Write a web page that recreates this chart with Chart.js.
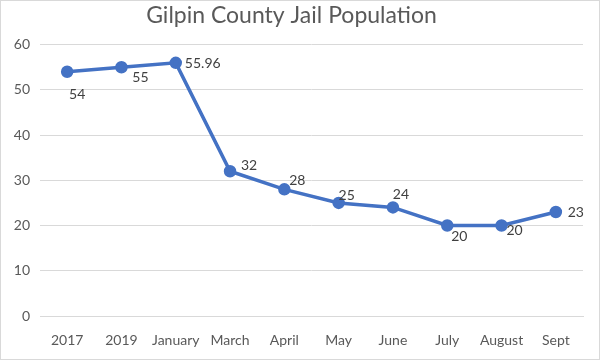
<!DOCTYPE html>
<html>
<head>
<title>Gilpin County Jail Population</title>
<script src="https://cdn.jsdelivr.net/npm/chart.js"></script>
<style>
body{margin:0;background:#fff;}
</style>
</head>
<body>
<canvas id="myChart" width="600" height="360"></canvas>
<script>
// data
var months = ["2017","2019","January","March","April","May","June","July","August","Sept"];
var population = [54, 55, 55.96, 32, 28, 25, 24, 20, 20, 23];
var yTicks = [0, 10, 20, 30, 40, 50, 60];

// where each value label sits, relative to its point (dx, dy)
var labelOffsets = [[10,23],[19,10],[27,1],[19,-6],[13,-9],[8,-7],[8,-13],[12,11],[13,5],[20,1]];

var gray = '#595959';
var blue = '#4472C4';

// draws the value labels and the thin frame round the picture
const extras = {
  id: 'extras',
  afterDatasetsDraw(chart) {
    var ctx = chart.ctx;
    var meta = chart.getDatasetMeta(0);
    ctx.save();
    ctx.font = '14px Lato';
    ctx.fillStyle = '#404040';
    ctx.textAlign = 'center';
    ctx.textBaseline = 'middle';
    meta.data.forEach(function(pt, i){
      ctx.fillText(String(population[i]), pt.x + labelOffsets[i][0], pt.y + labelOffsets[i][1]);
    });
    ctx.restore();
  },
  afterDraw(chart) {
    var ctx = chart.ctx;
    ctx.save();
    ctx.strokeStyle = '#d9d9d9';
    ctx.lineWidth = 1;
    ctx.strokeRect(0.5, 0.5, chart.width - 1, chart.height - 1);
    ctx.restore();
  }
};

const config = {
  type: 'line',
  data: {
    labels: months,
    datasets: [{
      label: 'Population',
      data: population,
      borderColor: blue,
      backgroundColor: blue,
      borderWidth: 3.5,
      pointRadius: 4.5,
      pointBackgroundColor: blue,
      pointBorderColor: blue,
      tension: 0
    }]
  },
  options: {
    responsive: false,
    animation: false,
    layout: { padding: { left: 0, right: 17, top: 0, bottom: 0 } },
    plugins: {
      legend: { display: false },
      tooltip: { enabled: false },
      title: {
        display: true,
        text: 'Gilpin County Jail Population',
        color: gray,
        font: { family: 'Lato', size: 23, weight: 'normal' },
        padding: { top: 2, bottom: 15 }
      }
    },
    scales: {
      x: {
        offset: true,
        grid: { display: false },
        border: { color: '#d9d9d9' },
        ticks: { color: gray, font: { family: 'Lato', size: 14 }, padding: 8, maxRotation: 0, autoSkip: false },
        afterFit: function(s){ s.height = 44; }
      },
      y: {
        min: 0,
        max: 60,
        afterBuildTicks: function(s){ s.ticks = yTicks.map(function(v){ return {value: v}; }); },
        grid: { color: '#d9d9d9', drawTicks: false },
        border: { display: false },
        ticks: { color: gray, font: { family: 'Lato', size: 14 }, padding: 10 },
        afterFit: function(s){ s.width = 40; }
      }
    }
  },
  plugins: [extras]
};

const myChart = new Chart(document.getElementById('myChart'), config);
</script>
</body>
</html>
